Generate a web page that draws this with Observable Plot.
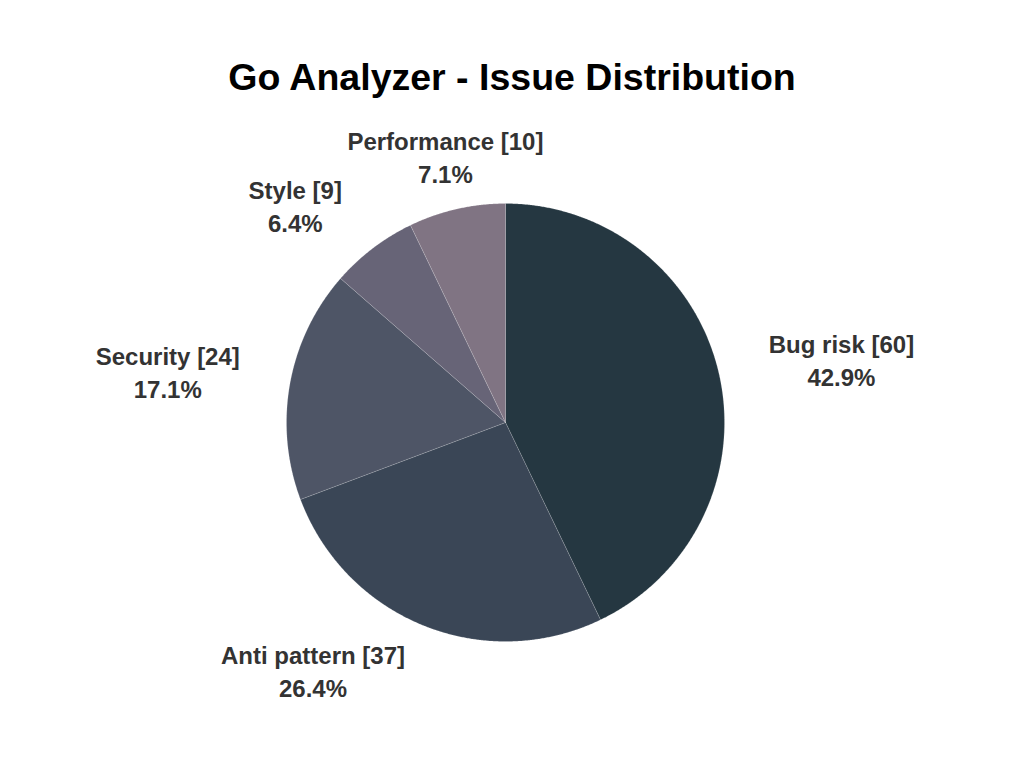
<!DOCTYPE html>
<html>
<head>
<meta charset="utf-8">
<script src="https://cdn.jsdelivr.net/npm/d3@7"></script>
<script src="https://cdn.jsdelivr.net/npm/@observablehq/plot@0.6"></script>
<style>
  html, body { margin: 0; padding: 0; background: #fff; }
  #title { width: 1024px; height: 110px; box-sizing: border-box; padding-top: 56px; line-height: 40px;
           text-align: center; font: bold 37.5px "Liberation Sans", Arial, sans-serif; color: #000; }
  #chart svg { display: block; }
</style>
</head>
<body>
<div id="title">Go Analyzer - Issue Distribution</div>
<div id="chart"></div>
<script>
const categories = ["Bug risk", "Anti pattern", "Security", "Style", "Performance"];
const counts = [60, 37, 24, 9, 10];
const colors = ["#253741", "#3a4656", "#4e5566", "#676477", "#807483"];

const W = 1024, H = 658;
const cx = 505, cy = 312, r = 219;   // pie centre and radius in px
const labelRadius = 1.233;           // label anchor distance in radii
const fontFamily = '"Liberation Sans", Arial, sans-serif';
const labelSize = 24;

const rows = categories.map((name, i) => ({name, count: counts[i]}));
const total = d3.sum(counts);
const arcs = d3.pie().sort(null).value(d => d.count)(rows);

// slice outlines in radius units (y up, angle clockwise from 12 o'clock)
const points = [];
for (const a of arcs) {
  const n = Math.max(2, Math.ceil((a.endAngle - a.startAngle) / 0.005));
  points.push({name: a.data.name, x: 0, y: 0});
  for (let k = 0; k <= n; k++) {
    const t = a.startAngle + (a.endAngle - a.startAngle) * k / n;
    points.push({name: a.data.name, x: Math.sin(t), y: Math.cos(t)});
  }
  points.push({name: a.data.name, x: 0, y: 0});
}

// label blocks
const ctx = document.createElement("canvas").getContext("2d");
ctx.font = `bold ${labelSize}px ${fontFamily}`;
const labels = arcs.map(a => {
  const m = (a.startAngle + a.endAngle) / 2;
  const s = Math.sin(m), c = Math.cos(m);
  const line1 = `${a.data.name} [${a.data.count}]`;
  const line2 = `${(a.data.count / total * 100).toFixed(1)}%`;
  const w = Math.max(ctx.measureText(line1).width, ctx.measureText(line2).width);
  let x = labelRadius * s;
  if (Math.abs(s) >= 0.3) x += (s > 0 ? 1 : -1) * (w / 2) / r;
  return {x, y: labelRadius * c, text: line1 + "\n" + line2};
});

const chart = Plot.plot({
  width: W, height: H,
  margin: 0,
  x: {domain: [-cx / r, (W - cx) / r], range: [0, W], axis: null},
  y: {domain: [-(H - cy) / r, cy / r], range: [H, 0], axis: null},
  color: {domain: categories, range: colors},
  style: {fontFamily, background: "#fff"},
  marks: [
    Plot.line(points, {x: "x", y: "y", z: "name", fill: "name", stroke: "#ffffff",
                       strokeWidth: 0.6, strokeOpacity: 0.25, curve: "linear"}),
    Plot.text(labels, {x: "x", y: "y", text: "text", fontSize: labelSize, fontWeight: "bold",
                       fill: "#333333", lineHeight: 1.375, textAnchor: "middle", lineAnchor: "middle", dy: -3})
  ]
});
document.getElementById("chart").appendChild(chart);
</script>
</body>
</html>
